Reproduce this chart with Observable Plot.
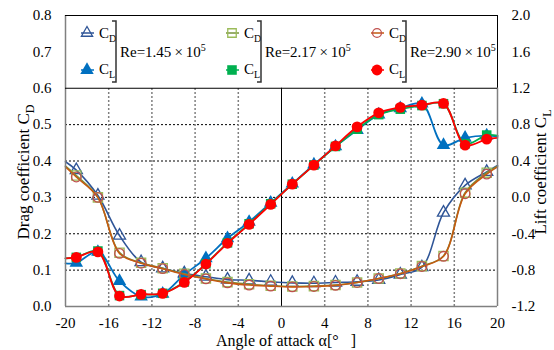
<!DOCTYPE html>
<html><head><meta charset="utf-8">
<script src="https://cdn.jsdelivr.net/npm/d3@7"></script>
<script src="https://cdn.jsdelivr.net/npm/@observablehq/plot@0.6"></script>
<style>body{margin:0;background:#fff}</style>
</head><body><div id="chart"></div>
<script>
// ---- data ----
const alpha = [-19,-17,-15,-13,-11,-9,-7,-5,-3,-1,1,3,5,7,9,11,13,15,17,19];
const edgeAlpha = [-20, 20];
const reLabels = ["1.45", "2.17", "2.90"];

const cd145 = [0.375,0.305,0.195,0.122,0.105,0.091,0.082,0.074,0.072,0.068,0.065,0.064,0.066,0.068,0.073,0.088,0.108,0.258,0.333,0.370];
const cd145Edge = [0.398, 0.388];
const cd217 = [0.360,0.300,0.148,0.120,0.105,0.090,0.077,0.067,0.061,0.057,0.055,0.056,0.059,0.066,0.077,0.091,0.111,0.139,0.313,0.368];
const cd217Edge = [0.386, 0.386];
const cd290 = [0.356,0.300,0.146,0.119,0.104,0.088,0.076,0.065,0.059,0.056,0.054,0.055,0.058,0.066,0.077,0.090,0.110,0.138,0.310,0.364];
const cd290Edge = [0.384, 0.384];

const cl145 = [-0.72,-0.60,-0.92,-1.09,-1.06,-0.85,-0.67,-0.45,-0.27,-0.06,0.15,0.36,0.56,0.74,0.91,0.98,1.03,0.575,0.655,0.68];
const cl145Edge = [-0.725, 0.67];
const cl217 = [-0.66,-0.59,-1.08,-1.07,-1.055,-0.93,-0.73,-0.50,-0.29,-0.07,0.145,0.355,0.56,0.75,0.91,0.97,1.01,1.03,0.59,0.685];
const cl217Edge = [-0.67, 0.68];
const cl290 = [-0.66,-0.60,-1.085,-1.066,-1.055,-0.935,-0.733,-0.505,-0.297,-0.077,0.145,0.355,0.567,0.776,0.93,0.99,1.014,1.033,0.575,0.64];
const cl290Edge = [-0.67, 0.655];

const dragTicks = [0,0.1,0.2,0.3,0.4,0.5,0.6,0.7,0.8];
const liftTicks = [-1.2,-0.8,-0.4,0.0,0.4,0.8,1.2,1.6,2.0];
const angleTicks = [-20,-16,-12,-8,-4,0,4,8,12,16,20];
const gridDrag = [0.1,0.2,0.3,0.4,0.5];
const gridAngle = [-16,-12,-8,-4,4,8,12,16];
const dataTop = 0.6;   // top of data area (legend box above)
const axisTop = 0.8;

// lift -> drag-axis units (right axis: -1.2..2.0 maps onto 0..0.8)
const liftToDrag = L => (L + 1.2) / 4;

function rows(values, edge, lift) {
  const f = lift ? liftToDrag : (v => v);
  return [{a: edgeAlpha[0], v: f(edge[0])}, ...alpha.map((a, i) => ({a, v: f(values[i])})), {a: edgeAlpha[1], v: f(edge[1])}];
}
function pts(values, lift) {
  const f = lift ? liftToDrag : (v => v);
  return alpha.map((a, i) => ({a, v: f(values[i])}));
}

const styles = [
  {cd: cd145, cdE: cd145Edge, cl: cl145, clE: cl145Edge, sym: "triangle", cdLine: "#2F5597", cdMark: "#2F5597", clColor: "#0070C0", rD: 4.5, rL: 5},
  {cd: cd217, cdE: cd217Edge, cl: cl217, clE: cl217Edge, sym: "square", cdLine: "#77933C", cdMark: "#9BBB59", clColor: "#00B050", rD: 5.2, rL: 5.4},
  {cd: cd290, cdE: cd290Edge, cl: cl290, clE: cl290Edge, sym: "circle", cdLine: "#C55A11", cdMark: "#C0504D", clColor: "#FF0000", rD: 4.8, rL: 5.4}
];

const marks = [
  Plot.ruleY(gridDrag, {stroke: "#000", strokeWidth: 1, strokeDasharray: "2,2"}),
  Plot.ruleX(gridAngle, {y1: 0, y2: dataTop, stroke: "#808080", strokeWidth: 1.5, strokeDasharray: "2,2"}),
  Plot.ruleX([0], {y1: 0, y2: dataTop, stroke: "#000", strokeWidth: 1}),
];
for (const s of styles) {
  marks.push(Plot.line(rows(s.cd, s.cdE, false), {x: "a", y: "v", stroke: s.cdLine, strokeWidth: 1.6, curve: "catmull-rom"}));
  marks.push(Plot.dot(pts(s.cd, false), {x: "a", y: "v", symbol: s.sym, r: s.rD, stroke: s.cdMark, fill: "none", strokeWidth: 1.3}));
  marks.push(Plot.line(rows(s.cl, s.clE, true), {x: "a", y: "v", stroke: s.clColor, strokeWidth: 1.8, curve: "catmull-rom"}));
  marks.push(Plot.dot(pts(s.cl, true), {x: "a", y: "v", symbol: s.sym, r: s.rL, fill: s.clColor, stroke: "none"}));
}
// frame and axes
marks.push(
  Plot.ruleY([0], {stroke: "#808080", strokeWidth: 1.5}),
  Plot.ruleX([-20], {y1: 0, y2: axisTop, stroke: "#808080", strokeWidth: 1.5}),
  Plot.ruleX([20], {y1: 0, y2: dataTop, stroke: "#808080", strokeWidth: 1.5}),
  Plot.ruleX([20], {y1: dataTop, y2: axisTop, stroke: "#000", strokeWidth: 1}),
  Plot.ruleY([dataTop, axisTop], {stroke: "#000", strokeWidth: 1}),
  Plot.axisX(angleTicks, {tickSize: 0, tickPadding: 11, tickFormat: d => String(d), label: null}),
  Plot.axisY(dragTicks, {anchor: "left", tickSize: 0, tickPadding: 14, tickFormat: d => d.toFixed(1), label: null}),
  Plot.axisY(liftTicks.map(liftToDrag), {anchor: "right", tickSize: 0, tickPadding: 14, label: null,
    tickFormat: d => { const L = Math.round((d * 4 - 1.2) * 10) / 10; return (L === 0 ? 0 : L).toFixed(1); }})
);

const plot = Plot.plot({
  width: 554, height: 350,
  marginLeft: 65, marginRight: 57, marginTop: 15, marginBottom: 44,
  x: {domain: [-20, 20]},
  y: {domain: [0, 0.8]},
  style: {fontFamily: "Liberation Serif, Times New Roman, serif", fontSize: "15px", color: "#000", background: "#fff"},
  marks
});
document.getElementById("chart").append(plot);

// ---- titles and legend (layout) ----
const svg = d3.select(plot);
const font = "Liberation Serif, Times New Roman, serif";
function subText(g, x, y, main, sub, size, subSize, rotate) {
  const t = g.append("text").attr("font-family", font).attr("font-size", size).attr("fill", "#000")
    .attr("text-anchor", rotate ? "middle" : "start");
  if (rotate) t.attr("transform", `translate(${x},${y}) rotate(-90)`); else t.attr("x", x).attr("y", y);
  t.append("tspan").text(main);
  t.append("tspan").attr("font-size", subSize).attr("dy", size * 0.28).text(sub);
  return t;
}
subText(svg, 29, 172, "Drag coefficient C", "D", 17, 12, true);
subText(svg, 546, 172, "Lift coefficient C", "L", 17, 12, true);
svg.append("text").attr("font-family", font).attr("font-size", 16).attr("text-anchor", "middle")
  .attr("x", 286).attr("y", 346).style("white-space", "pre").text("Angle of attack \u03b1[\u00b0\u00a0\u00a0\u00a0]");

const legendX = [87, 232, 377];
styles.forEach((s, i) => {
  const g = svg.append("g").attr("transform", `translate(${legendX[i]},0)`);
  const symType = s.sym === "triangle" ? d3.symbolTriangle : s.sym === "square" ? d3.symbolSquare : d3.symbolCircle;
  // CD
  g.append("line").attr("x1", -6).attr("x2", 7).attr("y1", 33).attr("y2", 33).attr("stroke", s.cdLine).attr("stroke-width", 1.5);
  g.append("path").attr("d", d3.symbol(symType, Math.PI * s.rD * s.rD * 0.85)()).attr("transform", "translate(0,33)")
    .attr("fill", "none").attr("stroke", s.cdMark).attr("stroke-width", 1.3);
  // CL
  g.append("line").attr("x1", -6).attr("x2", 7).attr("y1", 70).attr("y2", 70).attr("stroke", s.clColor).attr("stroke-width", 1.5);
  g.append("path").attr("d", d3.symbol(symType, Math.PI * s.rL * s.rL)()).attr("transform", "translate(0,70)").attr("fill", s.clColor);
  subText(g, 12, 38, "C", "D", 15, 10, false);
  subText(g, 12, 74, "C", "L", 15, 10, false);
  // bracket
  g.append("path").attr("d", "M25,21 H29 V82 H25").attr("fill", "none").attr("stroke", "#333").attr("stroke-width", 1.5);
  const t = g.append("text").attr("font-family", font).attr("font-size", 15).attr("text-anchor", "start")
    .attr("x", 33).attr("y", 57).attr("fill", "#000");
  t.append("tspan").text("Re=" + reLabels[i] + "\u2009\u00d7\u200910");
  t.append("tspan").attr("font-size", 10).attr("dy", -6).text("5");
});
</script>
</body></html>
